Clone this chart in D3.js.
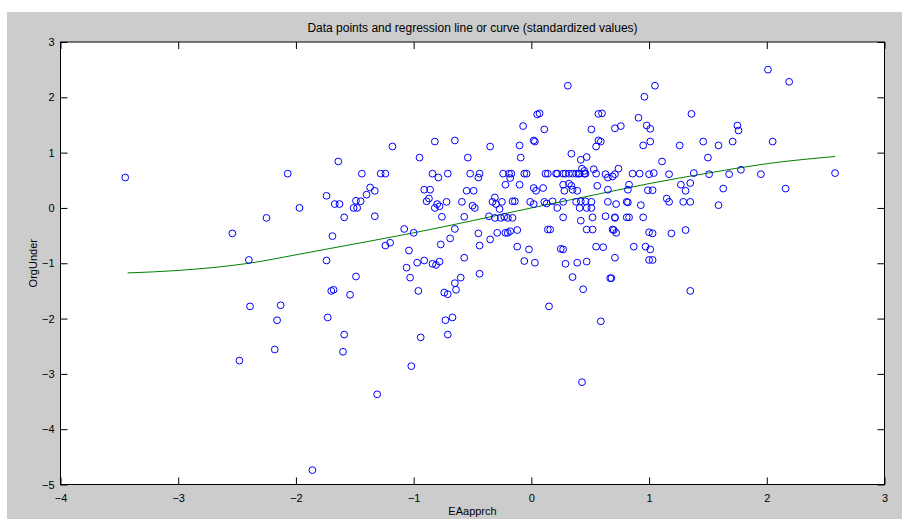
<!DOCTYPE html>
<html>
<head>
<meta charset="utf-8">
<script src="https://cdn.jsdelivr.net/npm/d3@7"></script>
<style>
  html, body { margin: 0; padding: 0; background: #fff; }
  svg { display: block; }
</style>
</head>
<body>
<svg id="chart" width="902" height="519"></svg>
<script>
// EAapprch (x) / OrgUnder (y), standardized values
const xValues = [
  -3.45, -2.54, -2.40, -2.39, -2.48, -2.25, -2.18, -2.16, -2.13, -2.07, -1.97, -1.86,
  -1.74, -1.74, -1.73, -1.70, -1.68, -1.69, -1.67, -1.63, -1.64, -1.59, -1.59, -1.60,
  -1.54, -1.51, -1.48, -1.49, -1.45, -1.49, -1.44, -1.40, -1.37, -1.33, -1.33, -1.31,
  -1.28, -1.24, -1.24, -1.20, -1.18,
  -0.95, -0.82, -0.65, -0.54, -0.35, -0.10, -0.09, -0.07, 0.02, 0.03, 0.05, 0.07, 0.31, 0.11,
  -0.84, -0.79, -0.71, -0.52, -0.44, -0.45, -0.24, -0.19, -0.17, -0.18, -0.06, -0.04,
  0.12, 0.14, 0.21, 0.22, 0.27, 0.29, 0.32, 0.35, 0.38, 0.40, 0.41, 0.45, 0.46, 0.43, 0.45, 0.55,
  -0.91, -0.86, -0.87, -0.89, -0.80, -0.82, -0.78, -0.72, -0.59, -0.55, -0.49, -0.50, -0.48,
  -0.33, -0.31, -0.30, -0.27, -0.25, -0.22, -0.16, -0.14, -0.10, -0.01, 0.02, 0.02, 0.04,
  0.10, 0.11, 0.13, 0.18, 0.22, 0.27, 0.27, 0.32, 0.34, 0.28, 0.35, 0.39, 0.38, 0.42, 0.46,
  0.51, 0.41, 0.47, 0.51, 0.56, 0.34, 0.42, 0.47, 0.55, 0.57, 0.51, 0.57,
  -1.08, -1.00, -1.04, -0.76, -0.77, -0.69, -0.65, -0.57, -0.45, -0.44, -0.35, -0.36, -0.31,
  -0.26, -0.23, -0.20, -0.16, -0.29, -0.22, -0.20, -0.18, -0.12, -0.12, -0.02, 0.14, 0.16,
  0.25, 0.27, 0.27, 0.42, 0.52, 0.47, 0.52, 0.55, -1.06, -0.97, -0.91, -0.84, -0.81, -0.78,
  -0.57, -0.06, 0.03, 0.29, 0.39, 0.47,
  -1.03, -0.96, -1.02, -0.94, -0.74, -0.71, -0.64, -0.65, -0.60, -0.44, -0.73, -0.67, -0.71,
  0.35, 0.44, 0.15, 0.59, 0.43,
  2.01, 2.19, 1.05, 0.96, 0.60, 1.36, 0.91, 0.71, 0.76, 0.98, 1.01, 1.75, 1.76, 2.05, 1.71,
  1.46, 1.59, 1.26, 0.95, 1.01, 0.59, 1.50, 1.11, 2.58, 1.95, 1.78, 1.68, 1.51, 1.38, 1.17,
  1.04, 1.00, 0.92, 0.86, 0.74, 0.71, 0.69, 0.65, 0.63, 0.83, 1.27, 1.35, 1.31, 2.16, 1.63,
  0.65, 0.82, 0.99, 1.03, 0.65, 0.72, 0.81, 0.82, 0.93, 1.15, 1.17, 1.29, 1.35, 1.59, 0.63,
  0.71, 0.71, 0.81, 0.83, 0.95, 0.70, 0.72, 0.69, 1.00, 1.03, 1.19, 1.31, 0.61, 0.87, 0.97,
  1.01, 0.71, 1.00, 1.03, 0.68, 0.67, 1.35, 0.53
];
const yValues = [
  0.55, -0.46, -0.94, -1.78, -2.76, -0.18, -2.56, -2.03, -1.76, 0.62, 0.00, -4.74,
  0.22, -0.95, -1.98, -1.50, -1.48, -0.51, 0.07, 0.07, 0.84, -0.17, -2.29, -2.60,
  -1.57, 0.00, 0.00, 0.13, 0.12, -1.24, 0.62, 0.24, 0.37, 0.31, -0.15, -3.37,
  0.62, 0.62, -0.68, -0.63, 1.11,
  0.91, 1.20, 1.22, 0.91, 1.11, 1.13, 0.91, 1.48, 1.22, 1.20, 1.69, 1.71, 2.21, 1.42,
  0.62, 0.55, 0.62, 0.62, 0.62, 0.55, 0.62, 0.62, 0.62, 0.54, 0.62, 0.62,
  0.62, 0.62, 0.62, 0.62, 0.62, 0.62, 0.62, 0.62, 0.62, 0.62, 0.62, 0.62, 0.62, 0.71, 0.67, 0.62,
  0.33, 0.33, 0.17, 0.12, 0.07, 0.00, 0.03, 0.11, 0.11, 0.31, 0.31, 0.04, 0.00,
  0.11, 0.19, 0.07, -0.02, 0.11, 0.42, 0.12, 0.12, 0.42, 0.11, 0.07, 0.36, 0.31,
  0.36, 0.11, 0.08, 0.12, 0.00, 0.11, 0.42, 0.44, 0.40, 0.31, 0.33, 0.31, 0.11, 0.12, 0.12,
  0.11, 0.00, 0.00, 0.00, 0.40, 0.98, 0.87, 0.92, 1.11, 1.22, 1.42, 1.70,
  -0.38, -0.45, -0.77, -0.16, -0.66, -0.55, -0.38, -0.16, -0.46, -0.68, -0.57, -0.15, -0.18,
  -0.18, -0.16, -0.18, -0.18, -0.45, -0.45, -0.45, -0.42, -0.40, -0.70, -0.75, -0.39, -0.39,
  -0.74, -0.75, -0.17, -0.23, -0.17, -0.39, -0.39, -0.70, -1.08, -0.99, -0.95, -1.01, -1.03, -0.97,
  -0.90, -0.96, -0.99, -1.01, -0.99, -0.97,
  -1.26, -1.50, -2.86, -2.34, -1.53, -1.56, -1.48, -1.36, -1.26, -1.19, -2.03, -1.98, -2.29,
  -1.25, -1.47, -1.78, -2.05, -3.15,
  2.50, 2.28, 2.21, 2.01, 1.71, 1.70, 1.63, 1.44, 1.48, 1.49, 1.43, 1.49, 1.40, 1.20, 1.20,
  1.20, 1.13, 1.13, 1.13, 1.20, 1.20, 0.91, 0.84, 0.63, 0.61, 0.69, 0.61, 0.61, 0.63, 0.61,
  0.63, 0.61, 0.62, 0.62, 0.71, 0.61, 0.57, 0.55, 0.61, 0.42, 0.42, 0.45, 0.31, 0.35, 0.35,
  0.33, 0.33, 0.32, 0.32, 0.11, 0.07, 0.11, 0.10, 0.05, 0.17, 0.11, 0.11, 0.11, 0.05, -0.15,
  -0.18, -0.17, -0.17, -0.17, -0.17, -0.40, -0.45, -0.39, -0.44, -0.46, -0.46, -0.40, -0.71, -0.70, -0.70,
  -0.75, -0.90, -0.94, -0.94, -1.27, -1.27, -1.50, 0.70
];

// regression curve
const curveX = [-3.43, -3.0, -2.4, -1.98, -1.5, -1.0, -0.5, 0.0, 0.59, 1.0, 1.5, 2.0, 2.58];
const curveY = [-1.175, -1.13, -1.0, -0.84, -0.65, -0.45, -0.23, 0.0, 0.26, 0.44, 0.63, 0.80, 0.93];

const xTicks = [-4, -3, -2, -1, 0, 1, 2, 3];
const yTicks = [-5, -4, -3, -2, -1, 0, 1, 2, 3];

const titleText = 'Data points and regression line or curve (standardized values)';
const xLabel = 'EAapprch';
const yLabel = 'OrgUnder';

const width = 902, height = 519;
const plot = { left: 60.5, right: 884.5, top: 42, bottom: 484.5 };
const font = '"Liberation Sans", Arial, sans-serif';

const svg = d3.select('#chart');

// figure background (MATLAB grey)
svg.append('rect')
  .attr('x', 7).attr('y', 12)
  .attr('width', width - 7).attr('height', height - 12)
  .attr('fill', '#cccccc');

const x = d3.scaleLinear().domain([-4, 3]).range([plot.left, plot.right]);
const y = d3.scaleLinear().domain([-5, 3]).range([plot.bottom, plot.top]);

svg.append('rect')
  .attr('x', plot.left).attr('y', plot.top)
  .attr('width', plot.right - plot.left).attr('height', plot.bottom - plot.top)
  .attr('fill', '#fff');

// axes: ticks point inward on all four sides
const styleAxis = g => {
  g.select('.domain').remove();
  g.selectAll('line').attr('stroke', '#000');
  g.selectAll('text')
    .attr('fill', '#000')
    .style('font-family', font)
    .style('font-size', '11px');
};

svg.append('g')
  .attr('transform', `translate(0,${plot.bottom})`)
  .call(d3.axisBottom(x).tickValues(xTicks).tickSize(-7).tickPadding(10).tickFormat(d3.format('d')))
  .call(styleAxis);

svg.append('g')
  .attr('transform', `translate(0,${plot.top})`)
  .call(d3.axisTop(x).tickValues(xTicks).tickSize(-7).tickFormat(''))
  .call(styleAxis);

svg.append('g')
  .attr('transform', `translate(${plot.left},0)`)
  .call(d3.axisLeft(y).tickValues(yTicks).tickSize(-7).tickPadding(6).tickFormat(d3.format('d')))
  .call(styleAxis);

svg.append('g')
  .attr('transform', `translate(${plot.right},0)`)
  .call(d3.axisRight(y).tickValues(yTicks).tickSize(-7).tickFormat(''))
  .call(styleAxis);

// regression curve
const curve = d3.range(curveX.length).map(i => [curveX[i], curveY[i]]);
svg.append('path')
  .datum(curve)
  .attr('fill', 'none')
  .attr('stroke', '#008000')
  .attr('stroke-width', 1)
  .attr('d', d3.line().x(d => x(d[0])).y(d => y(d[1])).curve(d3.curveMonotoneX));

// points
svg.append('g')
  .selectAll('circle')
  .data(d3.range(xValues.length))
  .join('circle')
  .attr('cx', i => x(xValues[i]))
  .attr('cy', i => y(yValues[i]))
  .attr('r', 3.4)
  .attr('fill', 'none')
  .attr('stroke', '#0000ff')
  .attr('stroke-width', 1);

// box
svg.append('rect')
  .attr('x', plot.left).attr('y', plot.top)
  .attr('width', plot.right - plot.left).attr('height', plot.bottom - plot.top)
  .attr('fill', 'none')
  .attr('stroke', '#000')
  .attr('stroke-width', 1);

// labels
svg.append('text')
  .attr('x', (plot.left + plot.right) / 2)
  .attr('y', 32)
  .attr('text-anchor', 'middle')
  .style('font-family', font)
  .style('font-size', '12px')
  .text(titleText);

svg.append('text')
  .attr('x', (plot.left + plot.right) / 2)
  .attr('y', 515)
  .attr('text-anchor', 'middle')
  .style('font-family', font)
  .style('font-size', '11px')
  .text(xLabel);

svg.append('text')
  .attr('transform', `translate(37,${(plot.top + plot.bottom) / 2}) rotate(-90)`)
  .attr('text-anchor', 'middle')
  .style('font-family', font)
  .style('font-size', '11px')
  .text(yLabel);
</script>
</body>
</html>
